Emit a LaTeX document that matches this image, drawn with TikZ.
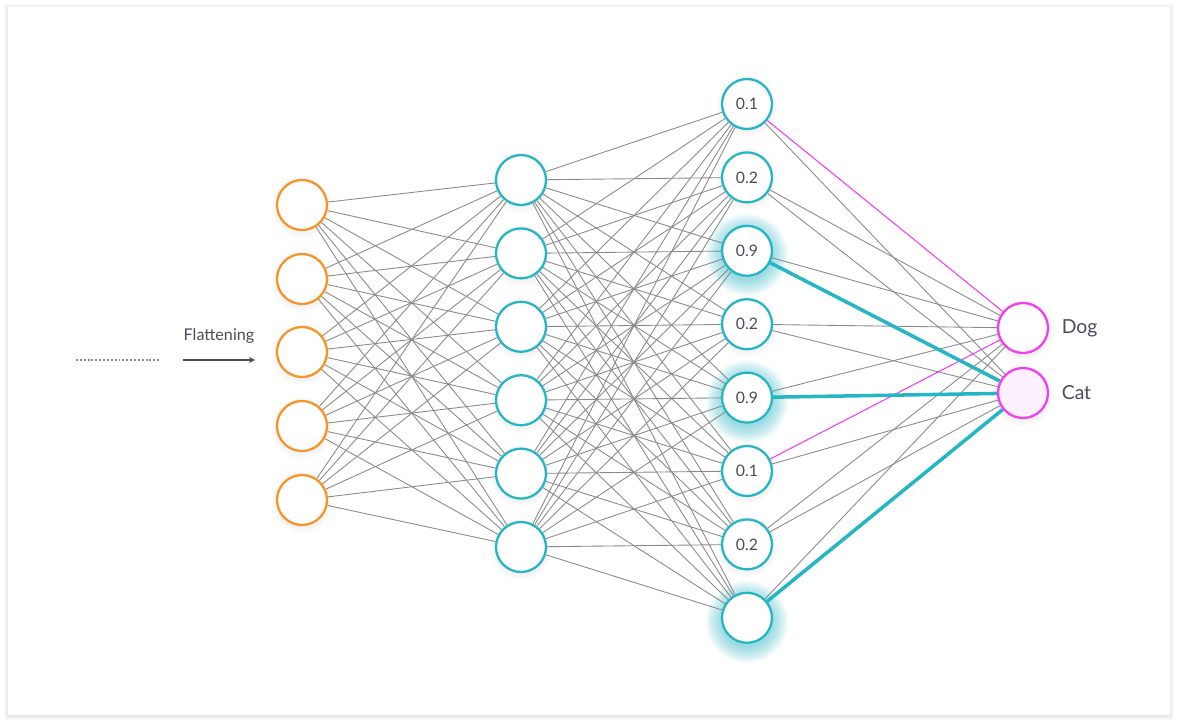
\documentclass[tikz,border=0pt]{standalone}
\usepackage{fontspec}
\setmainfont{Lato}
\usetikzlibrary{arrows.meta,positioning,calc,backgrounds}
\definecolor{nor}{RGB}{247,148,40}
\definecolor{ncy}{RGB}{36,182,197}
\definecolor{nmg}{RGB}{240,62,240}
\definecolor{npk}{RGB}{253,240,253}
\definecolor{lgr}{RGB}{138,138,138}
\definecolor{txt}{RGB}{75,75,92}
\tikzset{
  neuron/.style={circle,draw=#1,fill=white,line width=1.3pt,
    minimum size=1cm,inner sep=0pt,
    font=\fontsize{9}{10}\selectfont,text=txt},
  neuron/.default=ncy,
  link/.style={draw=lgr,line width=0.5pt},
  hot/.style={draw=ncy,line width=2pt},
  pick/.style={draw=nmg,line width=0.6pt},
  lbl/.style={font=\fontsize{11}{13}\selectfont,text=txt},
  sml/.style={font=\fontsize{9.2}{10}\selectfont,text=txt},
  arr/.style={-{Stealth[length=3.5pt,width=3.5pt]},line width=0.6pt,color=txt},
}

\begin{document}
\begin{tikzpicture}[x=0.02cm,y=-0.02cm]
    \useasboundingbox (0,0) rectangle (1178,724);
    % layers
    \foreach \i/\y in {1/205,2/279,3/352,4/426,5/500}
      \node[neuron=nor] (in\i) at (302,\y) {};
    \foreach \i in {1,...,6}
      \node[neuron] (ha\i) at (521,{180+(\i-1)*73.4}) {};
    \foreach \i/\v in {1/0.1,2/0.2,3/0.9,4/0.2,5/0.9,6/0.1,7/0.2,8/{}}
      \node[neuron] (hb\i) at (747,{104+(\i-1)*73.4}) {\v};
    \node[neuron=nmg] (dog) at (1023,328) {};
    \node[neuron=nmg,fill=npk] (cat) at (1023,393) {};
    \node[lbl,right=0.13cm of dog] (doglbl) {Dog};
    \node[lbl,right=0.13cm of cat] (catlbl) {Cat};
    % flattening
    \coordinate (ds) at (76,360);
    \coordinate (de) at (159,360);
    \coordinate (fs) at (183,360);
    \coordinate (fe) at (255,360);
    \draw[lgr,line width=0.7pt,dash pattern=on 1.1pt off 1.1pt] (ds) -- (de);
    \draw[arr] (fs) -- (fe);
    \node[sml,above=0.2cm of $(fs)!0.5!(fe)$] (flat) {Flattening};
    \begin{scope}[on background layer]
      \foreach \k in {0,...,4}
        \fill[black,opacity=0.018] ({8-\k},{7-\k+1}) rectangle ({1170+\k},{715+\k+1});
      \fill[white] (8,7) rectangle (1170,715);
      % soft shadows and glow
      \foreach \n in {in1,in2,in3,in4,in5,ha1,ha2,ha3,ha4,ha5,ha6,hb1,hb2,hb4,hb6,hb7,dog,cat}
        \foreach \k in {1,...,4}
          \fill[black,opacity=0.012] ($(\n)+(0,2)$) circle ({25+\k*1.5});
      \foreach \n in {hb3,hb5,hb8}
        \foreach \k in {1,...,10}
          \fill[ncy,opacity=0.055] ($(\n)+(0,4)$) circle ({24+\k*1.7});
      % connections
      \foreach \a in {1,...,5}
        \foreach \b in {1,...,6}
          \draw[link] (in\a) -- (ha\b);
      \foreach \a in {1,...,6}
        \foreach \b in {1,...,8}
          \draw[link] (ha\a) -- (hb\b);
      \foreach \a in {2,3,4,5,7,8}
        \draw[link] (hb\a) -- (dog);
      \foreach \a in {1,2,4,6,7}
        \draw[link] (hb\a) -- (cat);
      \draw[pick] (hb1) -- (dog);
      \draw[pick] (hb6) -- (dog);
      \foreach \a in {3,5,8}
        \draw[hot] (hb\a) -- (cat);
    \end{scope}
  \end{tikzpicture}
\end{document}
